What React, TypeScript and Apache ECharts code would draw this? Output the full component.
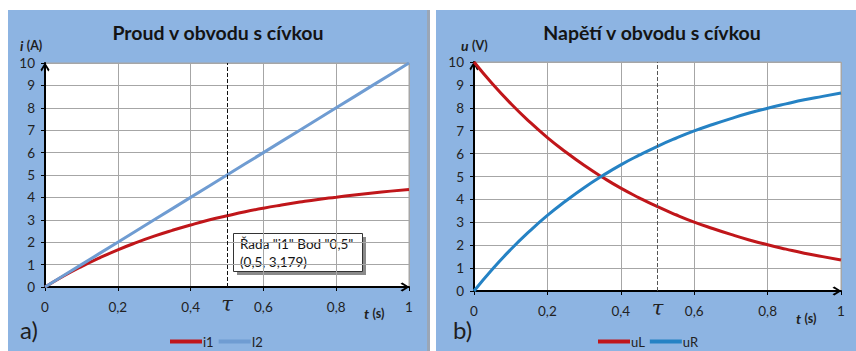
import { useEffect, useRef } from "react";
import * as echarts from "echarts";

const tValues = [0, 0.05, 0.1, 0.15, 0.2, 0.25, 0.3, 0.35, 0.4, 0.45, 0.5, 0.55, 0.6, 0.65, 0.7, 0.75, 0.8, 0.85, 0.9, 0.95, 1];
const i1Values = [0, 0.48, 0.91, 1.3, 1.66, 1.98, 2.27, 2.53, 2.77, 2.99, 3.179, 3.36, 3.52, 3.66, 3.79, 3.91, 4.01, 4.11, 4.2, 4.28, 4.35];
const i2Values = [0, 0.5, 1, 1.5, 2, 2.5, 3, 3.5, 4, 4.5, 5, 5.5, 6, 6.5, 7, 7.5, 8, 8.5, 9, 9.5, 10];
const uLValues = [10, 9.05, 8.19, 7.41, 6.7, 6.07, 5.49, 4.97, 4.49, 4.07, 3.68, 3.33, 3.01, 2.73, 2.47, 2.23, 2.02, 1.83, 1.65, 1.5, 1.35];
const uRValues = [0, 0.95, 1.81, 2.59, 3.3, 3.93, 4.51, 5.03, 5.51, 5.93, 6.32, 6.67, 6.99, 7.27, 7.53, 7.77, 7.98, 8.17, 8.35, 8.5, 8.65];
const tauValue = 0.5;
const seriesNames = ["i1", "I2", "uL", "uR"];
const titles = ["Proud v obvodu s cívkou", "Napětí v obvodu s cívkou"];
const tooltipLines = ['Řada "i1" Bod "0,5"', "(0,5, 3,179)"];

const FONT = "Lato, 'Liberation Sans', sans-serif";
const RED = "#C0161A";
const BLUE_L = "#6F9CD2";
const BLUE_R = "#2582C4";
const PANEL = "#8DB4E2";
const GRIDC = "#A6A6A6";
const TXT = "#222";

const pairs = (ys: number[]) => tValues.map((t, i) => [t, ys[i]]);

const arrow = "path://M50,0 L100,80 L86,100 L50,35 L14,100 L0,80 Z";

function xAxisCfg(gridIndex: number) {
  return {
    type: "value" as const,
    gridIndex,
    min: 0,
    max: 1,
    interval: 0.2,
    axisLine: {
      show: true,
      symbol: ["none", arrow],
      symbolSize: [12, 9],
      symbolOffset: [0, -4],
      lineStyle: { color: "#000", width: 2 },
    },
    axisTick: { show: true, length: 4, lineStyle: { color: "#000", width: 1 } },
    axisLabel: {
      margin: 13,
      fontFamily: FONT,
      fontSize: 13.5,
      color: TXT,
      formatter: (v: number) => String(Math.round(v * 10) / 10).replace(".", ","),
    },
    splitLine: { show: true, lineStyle: { color: GRIDC, width: 1 } },
  };
}

function yAxisCfg(gridIndex: number) {
  return {
    type: "value" as const,
    gridIndex,
    min: 0,
    max: 10,
    interval: 1,
    axisLine: {
      show: true,
      symbol: ["none", arrow],
      symbolSize: [12, 9],
      symbolOffset: [0, -4],
      lineStyle: { color: "#000", width: 2 },
    },
    axisTick: { show: true, length: 4, lineStyle: { color: "#000", width: 1 } },
    axisLabel: { margin: 10, fontFamily: FONT, fontSize: 13.5, color: TXT },
    splitLine: { show: true, lineStyle: { color: GRIDC, width: 1 } },
  };
}

function tauMarkLine(color: string) {
  return {
    silent: true,
    symbol: ["none", "none"],
    lineStyle: { type: "dashed" as const, color, width: 1 },
    label: {
      show: true,
      position: "start" as const,
      distance: 6,
      formatter: "τ",
      fontFamily: "'DejaVu Serif', serif",
      fontStyle: "italic" as const,
      fontSize: 21,
      color: "#222",
    },
    data: [{ xAxis: tauValue }],
  };
}

function legendCfg(names: string[], left: number) {
  return {
    data: names,
    left,
    top: 335,
    icon: "rect",
    itemWidth: 32,
    itemHeight: 4,
    itemGap: 5,
    padding: 0,
    textStyle: { fontFamily: FONT, fontSize: 13, color: TXT, padding: [0, 0, 0, -4] },
  };
}

export default function App() {
  const ref = useRef<HTMLDivElement>(null);
  useEffect(() => {
    if (!ref.current) return;
    const chart = echarts.init(ref.current, undefined, { renderer: "svg" });
    const axisNameRich = {
      it: { fontFamily: FONT, fontStyle: "italic", fontWeight: "bold", fontSize: 14, fill: "#1e1e1e" },
      n: { fontFamily: FONT, fontWeight: "bold", fontSize: 12.5, fill: "#1e1e1e" },
    };
    chart.setOption({
      animation: false,
      backgroundColor: "#fff",
      grid: [
        { left: 45, top: 63, width: 364, height: 224, show: true, backgroundColor: "#fff", borderColor: GRIDC, borderWidth: 1 },
        { left: 474, top: 62, width: 367, height: 229, show: true, backgroundColor: "#fff", borderColor: GRIDC, borderWidth: 1 },
      ],
      xAxis: [xAxisCfg(0), xAxisCfg(1)],
      yAxis: [yAxisCfg(0), yAxisCfg(1)],
      legend: [legendCfg([seriesNames[0], seriesNames[1]], 170), legendCfg([seriesNames[2], seriesNames[3]], 598)],
      series: [
        {
          name: seriesNames[0],
          type: "line",
          xAxisIndex: 0,
          yAxisIndex: 0,
          data: pairs(i1Values),
          smooth: true,
          showSymbol: false,
          lineStyle: { color: RED, width: 3 },
          itemStyle: { color: RED },
          z: 3,
          markLine: tauMarkLine("#111"),
        },
        {
          name: seriesNames[1],
          type: "line",
          xAxisIndex: 0,
          yAxisIndex: 0,
          data: pairs(i2Values),
          showSymbol: false,
          lineStyle: { color: BLUE_L, width: 3 },
          itemStyle: { color: BLUE_L },
          z: 4,
        },
        {
          name: seriesNames[2],
          type: "line",
          xAxisIndex: 1,
          yAxisIndex: 1,
          data: pairs(uLValues),
          smooth: true,
          showSymbol: false,
          lineStyle: { color: RED, width: 3 },
          itemStyle: { color: RED },
          z: 3,
          markLine: tauMarkLine("#555"),
        },
        {
          name: seriesNames[3],
          type: "line",
          xAxisIndex: 1,
          yAxisIndex: 1,
          data: pairs(uRValues),
          smooth: true,
          showSymbol: false,
          lineStyle: { color: BLUE_R, width: 3 },
          itemStyle: { color: BLUE_R },
          z: 4,
        },
      ],
      graphic: [
        { type: "rect", z: -10, silent: true, shape: { x: 8, y: 10, width: 419, height: 341 }, style: { fill: PANEL } },
        { type: "rect", z: -10, silent: true, shape: { x: 427, y: 10, width: 3, height: 341 }, style: { fill: "#9AA6B6" } },
        { type: "rect", z: -10, silent: true, shape: { x: 436, y: 10, width: 420, height: 341 }, style: { fill: PANEL } },
        {
          type: "text", silent: true, x: 218, y: 32,
          style: { text: titles[0], fontFamily: FONT, fontWeight: "bold", fontSize: 19.5, fill: "#141414", textAlign: "center", textVerticalAlign: "middle" },
        },
        {
          type: "text", silent: true, x: 652, y: 32,
          style: { text: titles[1], fontFamily: FONT, fontWeight: "bold", fontSize: 19.5, fill: "#141414", textAlign: "center", textVerticalAlign: "middle" },
        },
        {
          type: "text", silent: true, x: 20, y: 45,
          style: { text: "{it|i} {n|(A)}", rich: axisNameRich, textVerticalAlign: "middle" },
        },
        {
          type: "text", silent: true, x: 461, y: 45,
          style: { text: "{it|u} {n|(V)}", rich: axisNameRich, textVerticalAlign: "middle" },
        },
        {
          type: "text", silent: true, x: 364, y: 313,
          style: { text: "{it|t} {n|(s)}", rich: axisNameRich, textVerticalAlign: "middle" },
        },
        {
          type: "text", silent: true, x: 796, y: 318,
          style: { text: "{it|t} {n|(s)}", rich: axisNameRich, textVerticalAlign: "middle" },
        },
        {
          type: "text", silent: true, x: 20, y: 329,
          style: { text: "a)", fontFamily: FONT, fontSize: 24, fill: "#1e1e1e", textVerticalAlign: "middle" },
        },
        {
          type: "text", silent: true, x: 453, y: 329,
          style: { text: "b)", fontFamily: FONT, fontSize: 24, fill: "#1e1e1e", textVerticalAlign: "middle" },
        },
        {
          type: "group", z: 100, silent: true,
          children: [
            { type: "rect", shape: { x: 237, y: 237, width: 129, height: 38 }, style: { fill: "#8a8a8a" } },
            { type: "rect", shape: { x: 233.5, y: 233.5, width: 129, height: 38 }, style: { fill: "#fff", stroke: "#333", lineWidth: 1 } },
            {
              type: "text", x: 240, y: 244,
              style: { text: tooltipLines[0], fontFamily: FONT, fontSize: 13.5, fill: "#141414", textVerticalAlign: "middle" },
            },
            {
              type: "text", x: 240, y: 262,
              style: { text: tooltipLines[1], fontFamily: FONT, fontSize: 13.5, fill: "#141414", textVerticalAlign: "middle" },
            },
          ],
        },
      ],
    });
    return () => chart.dispose();
  }, []);
  return <div ref={ref} style={{ position: "fixed", left: 0, top: 0, width: 856, height: 351 }} />;
}
